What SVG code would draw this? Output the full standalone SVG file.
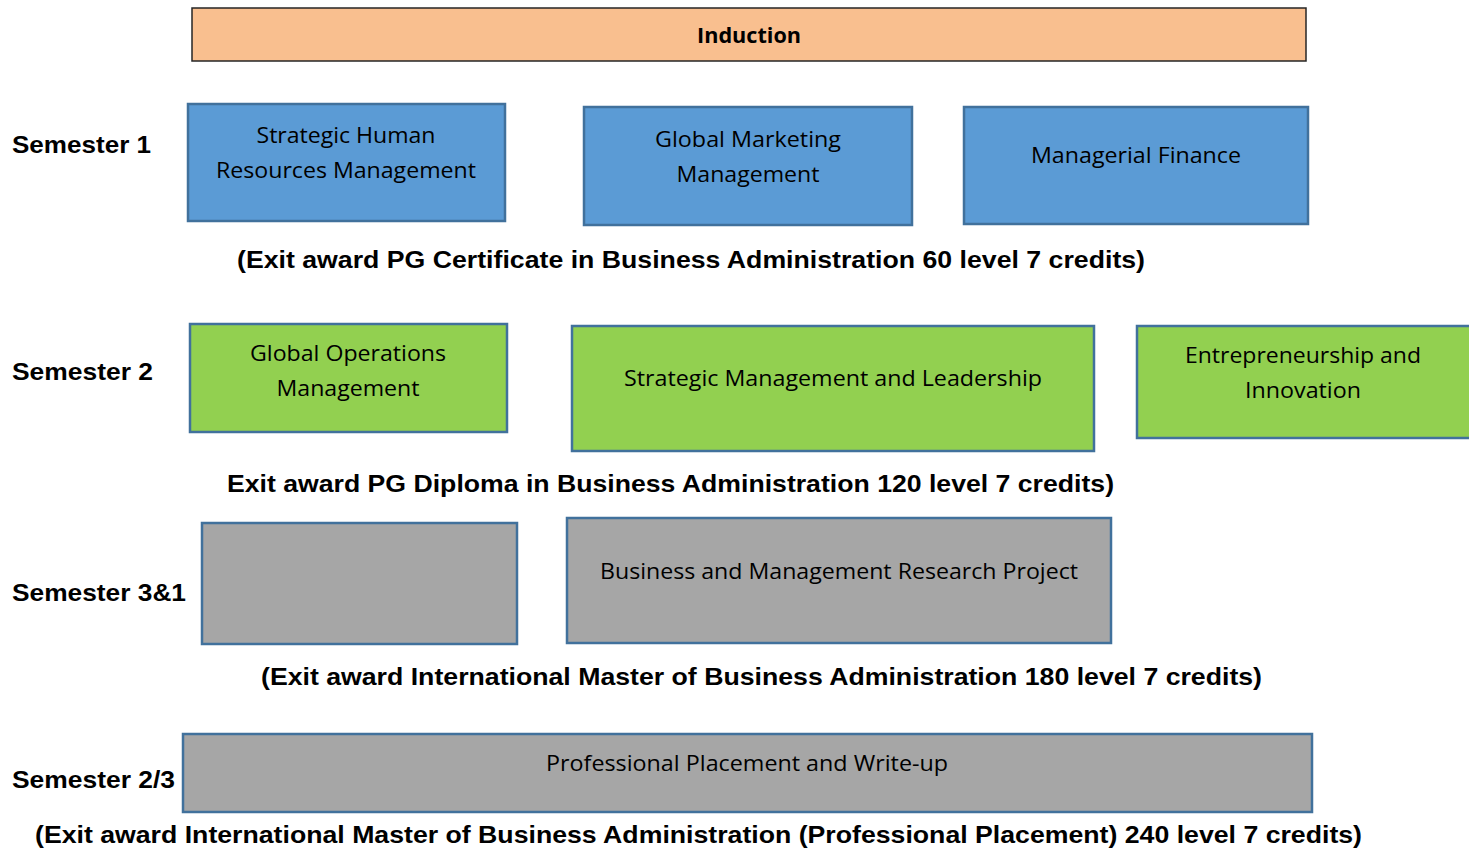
<svg xmlns="http://www.w3.org/2000/svg" width="1469" height="850" viewBox="0 0 1469 850">
<style>
.bg{fill:#ffffff}
.ind{fill:#F9BF8F;stroke:#262626;stroke-width:1.5}
.blue{fill:#5B9BD5;stroke:#41719C;stroke-width:2.5}
.green{fill:#92D050;stroke:#41719C;stroke-width:2.5}
.gray{fill:#A6A6A6;stroke:#41719C;stroke-width:2.5}
.bt{font-family:"Open Sans","Noto Sans","DejaVu Sans",sans-serif;font-size:22px;fill:#000;text-anchor:middle}
.lbl{font-family:"Liberation Sans",Arial,sans-serif;font-weight:bold;font-size:24px;fill:#000}
.it{font-family:"Open Sans","Noto Sans",sans-serif;font-weight:bold;font-size:22px;fill:#000;text-anchor:middle}
</style>
<rect class="bg" x="0" y="0" width="1469" height="850"/>
<g id="induction">
<rect class="ind" x="192" y="8" width="1114" height="53"/>
<text class="it" x="749" y="43" textLength="104" lengthAdjust="spacingAndGlyphs">Induction</text>
</g>
<g id="sem1-label"><text class="lbl" x="12" y="153" textLength="139" lengthAdjust="spacingAndGlyphs">Semester 1</text></g>
<g id="shrm">
<rect class="blue" x="188" y="104" width="317" height="117"/>
<text class="bt" x="346" y="143" textLength="179" lengthAdjust="spacingAndGlyphs">Strategic Human</text>
<text class="bt" x="346" y="178" textLength="260" lengthAdjust="spacingAndGlyphs">Resources Management</text>
</g>
<g id="gmm">
<rect class="blue" x="584" y="107" width="328" height="118"/>
<text class="bt" x="748" y="147" textLength="186" lengthAdjust="spacingAndGlyphs">Global Marketing</text>
<text class="bt" x="748" y="182" textLength="143" lengthAdjust="spacingAndGlyphs">Management</text>
</g>
<g id="mf">
<rect class="blue" x="964" y="107" width="344" height="117"/>
<text class="bt" x="1136" y="163" textLength="210" lengthAdjust="spacingAndGlyphs">Managerial Finance</text>
</g>
<g id="exit1"><text class="lbl" x="237" y="268" textLength="908" lengthAdjust="spacingAndGlyphs">(Exit award PG Certificate in Business Administration 60 level 7 credits)</text></g>
<g id="sem2-label"><text class="lbl" x="12" y="380" textLength="141" lengthAdjust="spacingAndGlyphs">Semester 2</text></g>
<g id="gom">
<rect class="green" x="190" y="324" width="317" height="108"/>
<text class="bt" x="348" y="361" textLength="196" lengthAdjust="spacingAndGlyphs">Global Operations</text>
<text class="bt" x="348" y="396" textLength="143" lengthAdjust="spacingAndGlyphs">Management</text>
</g>
<g id="sml">
<rect class="green" x="572" y="326" width="522" height="125"/>
<text class="bt" x="833" y="386" textLength="418" lengthAdjust="spacingAndGlyphs">Strategic Management and Leadership</text>
</g>
<g id="ei">
<rect class="green" x="1137" y="326" width="340" height="112"/>
<text class="bt" x="1303" y="363" textLength="236" lengthAdjust="spacingAndGlyphs">Entrepreneurship and</text>
<text class="bt" x="1303" y="398" textLength="116" lengthAdjust="spacingAndGlyphs">Innovation</text>
</g>
<g id="exit2"><text class="lbl" x="227" y="492" textLength="887" lengthAdjust="spacingAndGlyphs">Exit award PG Diploma in Business Administration 120 level 7 credits)</text></g>
<g id="sem3-label"><text class="lbl" x="12" y="601" textLength="174" lengthAdjust="spacingAndGlyphs">Semester 3&amp;1</text></g>
<g id="gray-blank">
<rect class="gray" x="202" y="523" width="315" height="121"/>
</g>
<g id="bmrp">
<rect class="gray" x="567" y="518" width="544" height="125"/>
<text class="bt" x="839" y="579" textLength="478" lengthAdjust="spacingAndGlyphs">Business and Management Research Project</text>
</g>
<g id="exit3"><text class="lbl" x="261" y="685" textLength="1001" lengthAdjust="spacingAndGlyphs">(Exit award International Master of Business Administration 180 level 7 credits)</text></g>
<g id="sem23-label"><text class="lbl" x="12" y="788" textLength="163" lengthAdjust="spacingAndGlyphs">Semester 2/3</text></g>
<g id="ppw">
<rect class="gray" x="183" y="734" width="1129" height="78"/>
<text class="bt" x="747" y="771" textLength="402" lengthAdjust="spacingAndGlyphs">Professional Placement and Write-up</text>
</g>
<g id="exit4"><text class="lbl" x="35" y="843" textLength="1327" lengthAdjust="spacingAndGlyphs">(Exit award International Master of Business Administration (Professional Placement) 240 level 7 credits)</text></g>
<g id="connectors"></g>
</svg>
